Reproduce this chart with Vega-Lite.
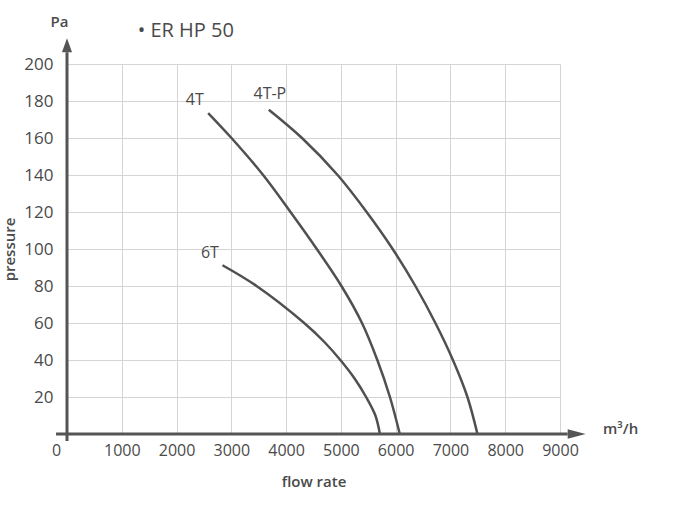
{
  "$schema": "https://vega.github.io/schema/vega-lite/v6.json",
  "width": 493,
  "height": 370,
  "autosize": "none",
  "padding": {"left": 67, "top": 64, "right": 125, "bottom": 72},
  "background": "white",
  "config": {
    "view": {"stroke": null},
    "font": "Open Sans",
    "text": {"font": "Open Sans"}
  },
  "datasets": {
    "curves": [
      {"flow": 2577, "pressure": 173.5, "series": "4T"},
      {"flow": 3003, "pressure": 160, "series": "4T"},
      {"flow": 3580, "pressure": 140, "series": "4T"},
      {"flow": 4080, "pressure": 120, "series": "4T"},
      {"flow": 4560, "pressure": 100, "series": "4T"},
      {"flow": 5010, "pressure": 80, "series": "4T"},
      {"flow": 5385, "pressure": 60, "series": "4T"},
      {"flow": 5665, "pressure": 40, "series": "4T"},
      {"flow": 5895, "pressure": 20, "series": "4T"},
      {"flow": 6075, "pressure": 0, "series": "4T"},
      {"flow": 3684, "pressure": 175.3, "series": "4T-P"},
      {"flow": 4290, "pressure": 160, "series": "4T-P"},
      {"flow": 4940, "pressure": 140, "series": "4T-P"},
      {"flow": 5470, "pressure": 120, "series": "4T-P"},
      {"flow": 5945, "pressure": 100, "series": "4T-P"},
      {"flow": 6360, "pressure": 80, "series": "4T-P"},
      {"flow": 6725, "pressure": 60, "series": "4T-P"},
      {"flow": 7045, "pressure": 40, "series": "4T-P"},
      {"flow": 7310, "pressure": 20, "series": "4T-P"},
      {"flow": 7493, "pressure": 0, "series": "4T-P"},
      {"flow": 2839, "pressure": 91.2, "series": "6T"},
      {"flow": 3460, "pressure": 80, "series": "6T"},
      {"flow": 4330, "pressure": 60, "series": "6T"},
      {"flow": 4690, "pressure": 50, "series": "6T"},
      {"flow": 4990, "pressure": 40, "series": "6T"},
      {"flow": 5250, "pressure": 30, "series": "6T"},
      {"flow": 5460, "pressure": 20, "series": "6T"},
      {"flow": 5630, "pressure": 10, "series": "6T"},
      {"flow": 5712, "pressure": 0, "series": "6T"}
    ],
    "labels": [
      {"flow": 2334, "pressure": 180.4, "label": "4T"},
      {"flow": 3703, "pressure": 183.6, "label": "4T-P"},
      {"flow": 2609, "pressure": 97.7, "label": "6T"}
    ],
    "units": [
      {"flow": -139, "pressure": 222.5, "label": "Pa"},
      {"flow": 10107, "pressure": 2.7, "label": "m³/h"}
    ],
    "heading": [
      {"flow": 1290, "pressure": 218.1, "label": "• ER HP 50"}
    ],
    "xline": [{"flow": -200, "flow2": 9140, "pressure": 0}],
    "yline": [{"flow": 0, "pressure": -3.8, "pressure2": 206.4}],
    "xhead": [{"flow": 9140, "pressure": 0}],
    "yhead": [{"flow": 0, "pressure": 206.4}]
  },
  "layer": [
    {
      "data": {"name": "curves"},
      "mark": {"type": "line", "interpolate": "catmull-rom", "color": "#505050", "strokeWidth": 2.5},
      "encoding": {
        "x": {
          "field": "flow", "type": "quantitative",
          "scale": {"domain": [0, 9000], "nice": false, "zero": false},
          "axis": {
            "title": "flow rate",
            "values": [0, 1000, 2000, 3000, 4000, 5000, 6000, 7000, 8000, 9000],
            "tickCount": 20,
            "format": "d",
            "domain": false, "ticks": false,
            "grid": true, "gridColor": "#d4d4d4", "gridWidth": 1,
            "labelFont": "Open Sans", "labelFontSize": 16, "labelColor": "#4a4a4a",
            "labelPadding": 8,
            "labelOverlap": false,
            "labelOffset": {"condition": {"test": "datum.value === 0", "value": -11}, "value": 0},
            "labelFlush": false,
            "titleFont": "Open Sans", "titleFontSize": 15, "titleFontWeight": 600, "titleColor": "#4a4a4a",
            "titlePadding": 16
          }
        },
        "y": {
          "field": "pressure", "type": "quantitative",
          "scale": {"domain": [0, 200], "nice": false, "zero": false},
          "axis": {
            "title": "pressure",
            "values": [0, 20, 40, 60, 80, 100, 120, 140, 160, 180, 200],
            "tickCount": 20,
            "labelExpr": "datum.value === 0 ? '' : datum.label",
            "domain": false, "ticks": false,
            "grid": true, "gridColor": "#d4d4d4", "gridWidth": 1,
            "labelFont": "Open Sans", "labelFontSize": 17, "labelColor": "#4a4a4a",
            "labelPadding": 14,
            "labelOverlap": false,
            "labelFlush": false,
            "titleFont": "Open Sans", "titleFontSize": 15, "titleFontWeight": 600, "titleColor": "#4a4a4a",
            "titlePadding": 6
          }
        },
        "detail": {"field": "series", "type": "nominal"}
      }
    },
    {
      "data": {"name": "labels"},
      "mark": {"type": "text", "align": "center", "baseline": "middle", "fontSize": 16, "color": "#4a4a4a", "font": "Open Sans"},
      "encoding": {
        "x": {"field": "flow", "type": "quantitative"},
        "y": {"field": "pressure", "type": "quantitative"},
        "text": {"field": "label"}
      }
    },
    {
      "data": {"name": "units"},
      "mark": {"type": "text", "align": "center", "baseline": "middle", "fontSize": 15, "fontWeight": 600, "color": "#4a4a4a", "font": "Open Sans"},
      "encoding": {
        "x": {"field": "flow", "type": "quantitative"},
        "y": {"field": "pressure", "type": "quantitative"},
        "text": {"field": "label"}
      }
    },
    {
      "data": {"name": "heading"},
      "mark": {"type": "text", "align": "left", "baseline": "middle", "fontSize": 20, "color": "#4a4a4a", "font": "Open Sans"},
      "encoding": {
        "x": {"field": "flow", "type": "quantitative"},
        "y": {"field": "pressure", "type": "quantitative"},
        "text": {"field": "label"}
      }
    },
    {
      "data": {"name": "xline"},
      "mark": {"type": "rule", "color": "#555555", "strokeWidth": 3},
      "encoding": {
        "x": {"field": "flow", "type": "quantitative"},
        "x2": {"field": "flow2"},
        "y": {"field": "pressure", "type": "quantitative"}
      }
    },
    {
      "data": {"name": "yline"},
      "mark": {"type": "rule", "color": "#555555", "strokeWidth": 3},
      "encoding": {
        "x": {"field": "flow", "type": "quantitative"},
        "y": {"field": "pressure", "type": "quantitative"},
        "y2": {"field": "pressure2"}
      }
    },
    {
      "data": {"name": "xhead"},
      "mark": {"type": "point", "shape": "M0,-0.27L0,0.27L1,0Z", "filled": true, "color": "#555555", "opacity": 1, "size": 1296, "strokeWidth": 0},
      "encoding": {
        "x": {"field": "flow", "type": "quantitative"},
        "y": {"field": "pressure", "type": "quantitative"}
      }
    },
    {
      "data": {"name": "yhead"},
      "mark": {"type": "point", "shape": "M-0.36,0L0.36,0L0,-1Z", "filled": true, "color": "#555555", "opacity": 1, "size": 784, "strokeWidth": 0},
      "encoding": {
        "x": {"field": "flow", "type": "quantitative"},
        "y": {"field": "pressure", "type": "quantitative"}
      }
    }
  ]
}
